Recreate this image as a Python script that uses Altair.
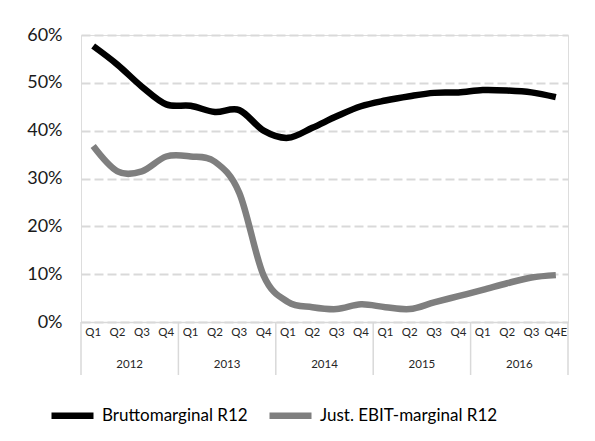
import altair as alt
import pandas as pd

years = ["2012", "2013", "2014", "2015", "2016"]
quarters = ["Q1", "Q2", "Q3", "Q4"]
last_quarters = ["Q1", "Q2", "Q3", "Q4E"]

brutto = [57.7, 53.8, 49.2, 45.5, 45.2, 43.9, 44.3, 40.0,
          38.5, 40.6, 43.0, 45.1, 46.3, 47.2, 47.9, 48.0,
          48.5, 48.4, 48.0, 47.0]
ebit = [36.8, 31.5, 31.5, 34.6, 34.6, 33.5, 27.0, 9.7,
        4.2, 3.1, 2.7, 3.7, 3.1, 2.7, 4.1, 5.4,
        6.7, 8.1, 9.3, 9.8]

series_names = ["Bruttomarginal R12", "Just. EBIT-marginal R12"]
series_colors = ["#000000", "#7f7f7f"]

keys, qlabels, ylabels = [], [], []
for y in years:
    qs = last_quarters if y == "2016" else quarters
    for q in qs:
        keys.append(f"{y} {q}")
        qlabels.append(q)
        ylabels.append(y)

rows = []
for i, k in enumerate(keys):
    rows.append({"key": k, "series": series_names[0], "value": brutto[i] / 100})
    rows.append({"key": k, "series": series_names[1], "value": ebit[i] / 100})
df = pd.DataFrame(rows)

year_df = pd.DataFrame({"year": years, "mid": [f"{y} Q3" for y in years],
                        "first": [f"{y} Q1" for y in years]})
end_df = pd.DataFrame({"last": [keys[-1]]})

label_map = "{" + ",".join(f"'{k}':'{q}'" for k, q in zip(keys, qlabels)) + "}"

W, H = 487, 287
FONT = "Lato"

xscale = alt.Scale(domain=keys, paddingInner=0, paddingOuter=0)

lines = alt.Chart(df).mark_line(strokeWidth=6.5, interpolate="cardinal", strokeCap="butt").encode(
    x=alt.X("key:N", scale=xscale, sort=keys,
            axis=alt.Axis(title=None, labelExpr=f"{label_map}[datum.value]", labelAngle=0,
                          bandPosition=0.5, labelAlign="center",
                          labelFontSize=11.5, labelFont=FONT, labelColor="#262626",
                          labelPadding=10, ticks=False, domain=True,
                          domainColor="#d9d9d9", domainWidth=1.5, grid=False)),
    y=alt.Y("value:Q", scale=alt.Scale(domain=[0, 0.6], nice=False),
            axis=alt.Axis(title=None, format=".0%", values=[0, 0.1, 0.2, 0.3, 0.4, 0.5, 0.6],
                          labelFontSize=18, labelFont=FONT, labelColor="#1a1a1a",
                          labelPadding=19, ticks=False, domain=False,
                          grid=True, gridColor="#d9d9d9", gridWidth=2, gridDash=[9, 4])),
    color=alt.Color("series:N", scale=alt.Scale(domain=series_names, range=series_colors),
                    legend=alt.Legend(title=None, orient="none", direction="horizontal",
                                      legendX=-33, legendY=356,
                                      symbolType="stroke", symbolSize=1764,
                                      symbolStrokeWidth=6.5, labelFontSize=17,
                                      labelFont=FONT, labelColor="#000000", labelLimit=400,
                                      labelOffset=5, columnPadding=8)),
)

year_text = alt.Chart(year_df).mark_text(fontSize=11.5, font=FONT, color="#262626", baseline="middle").encode(
    x=alt.X("mid:N", scale=xscale, sort=keys, bandPosition=0),
    y=alt.value(H + 43),
    text="year:N",
)

sep = alt.Chart(year_df).mark_rule(color="#d9d9d9", strokeWidth=1.5).encode(
    x=alt.X("first:N", scale=xscale, sort=keys, bandPosition=0),
    y=alt.value(H),
    y2=alt.value(H + 53),
)

sep_end = alt.Chart(end_df).mark_rule(color="#d9d9d9", strokeWidth=1.5).encode(
    x=alt.X("last:N", scale=xscale, sort=keys, bandPosition=1),
    y=alt.value(H),
    y2=alt.value(H + 53),
)

chart = alt.layer(sep, sep_end, year_text, lines).properties(
    width=W, height=H,
    autosize=alt.AutoSizeParams(type="none"),
    padding={"left": 73, "top": 27, "right": 19, "bottom": 110},
).configure_view(stroke=None).configure(background="white")

chart.save("out.html", embed_options={"renderer": "svg", "actions": False})
